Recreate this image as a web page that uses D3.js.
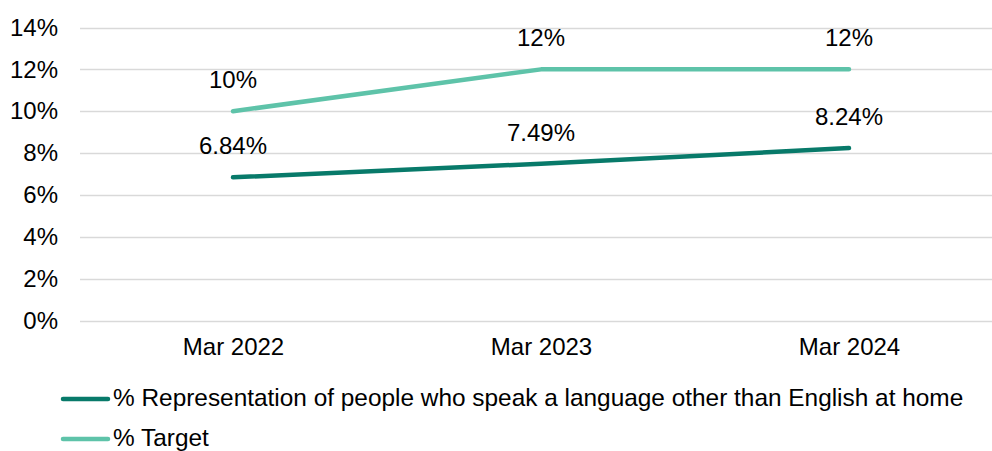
<!DOCTYPE html>
<html><head><meta charset="utf-8">
<script src="https://cdn.jsdelivr.net/npm/d3@7"></script>
<style>
html,body{margin:0;padding:0;background:#fff;overflow:hidden}
text{font-family:"Liberation Sans",Arial,sans-serif;fill:#000}
</style></head>
<body>
<svg id="chart" width="992" height="451"></svg>
<script>
const categories = ["Mar 2022", "Mar 2023", "Mar 2024"];
const representation = [6.84, 7.49, 8.24];
const target = [10, 12, 12];
const seriesNames = ["% Representation of people who speak a language other than English at home", "% Target"];
const seriesColors = ["#087A6A", "#5EC3A9"];
const yTicks = [0, 2, 4, 6, 8, 10, 12, 14];
const FS = "24px";
const LFS = "24.4px";

const svg = d3.select("#chart");
const x = d3.scalePoint().domain(categories).range([233, 849]).padding(0);
const y = d3.scaleLinear().domain([0, 14]).range([320.5, 27.5]);
const plotLeft = 80, plotRight = 1003;

// gridlines
svg.append("g").selectAll("line").data(yTicks).join("line")
  .attr("x1", plotLeft).attr("x2", plotRight)
  .attr("y1", d => Math.round(y(d)) + 0.5).attr("y2", d => Math.round(y(d)) + 0.5)
  .attr("stroke", "#d9d9d9").attr("stroke-width", 1.5);

// y axis labels
const yAxis = d3.axisLeft(y).tickValues(yTicks).tickFormat(d => d + "%").tickSize(0).tickPadding(0);
const yg = svg.append("g").attr("transform", "translate(58,0)").call(yAxis);
yg.select(".domain").remove();
yg.selectAll("text").style("font-size", FS).style("font-family", '"Liberation Sans",Arial,sans-serif').attr("fill", "#000");

// x axis labels
const xAxis = d3.axisBottom(x).tickSize(0).tickPadding(0);
const xg = svg.append("g").attr("transform", "translate(0,338)").call(xAxis);
xg.select(".domain").remove();
xg.selectAll("text").style("font-size", FS).style("font-family", '"Liberation Sans",Arial,sans-serif').attr("fill", "#000");

const series = [representation, target];
const fmt = [d => d.toFixed(2) + "%", d => d + "%"];
const line = d3.line().x((d, i) => x(categories[i])).y(d => y(d));

series.forEach((vals, si) => {
  svg.append("path").datum(vals)
    .attr("d", line)
    .attr("fill", "none")
    .attr("stroke", seriesColors[si])
    .attr("stroke-width", 4.5)
    .attr("stroke-linecap", "round")
    .attr("stroke-linejoin", "round");
  svg.append("g").selectAll("text").data(vals).join("text")
    .attr("x", (d, i) => x(categories[i]))
    .attr("y", d => y(d) - 23)
    .attr("text-anchor", "middle")
    .style("font-size", FS)
    .text(fmt[si]);
});

// legend
const legY = [399, 439];
seriesNames.forEach((name, i) => {
  svg.append("line")
    .attr("x1", 63).attr("x2", 108)
    .attr("y1", legY[i]).attr("y2", legY[i])
    .attr("stroke", seriesColors[i]).attr("stroke-width", 4.5)
    .attr("stroke-linecap", "round");
  svg.append("text")
    .attr("x", 113).attr("y", legY[i] + 7)
    .style("font-size", LFS)
    .text(name);
});
</script>
</body></html>
